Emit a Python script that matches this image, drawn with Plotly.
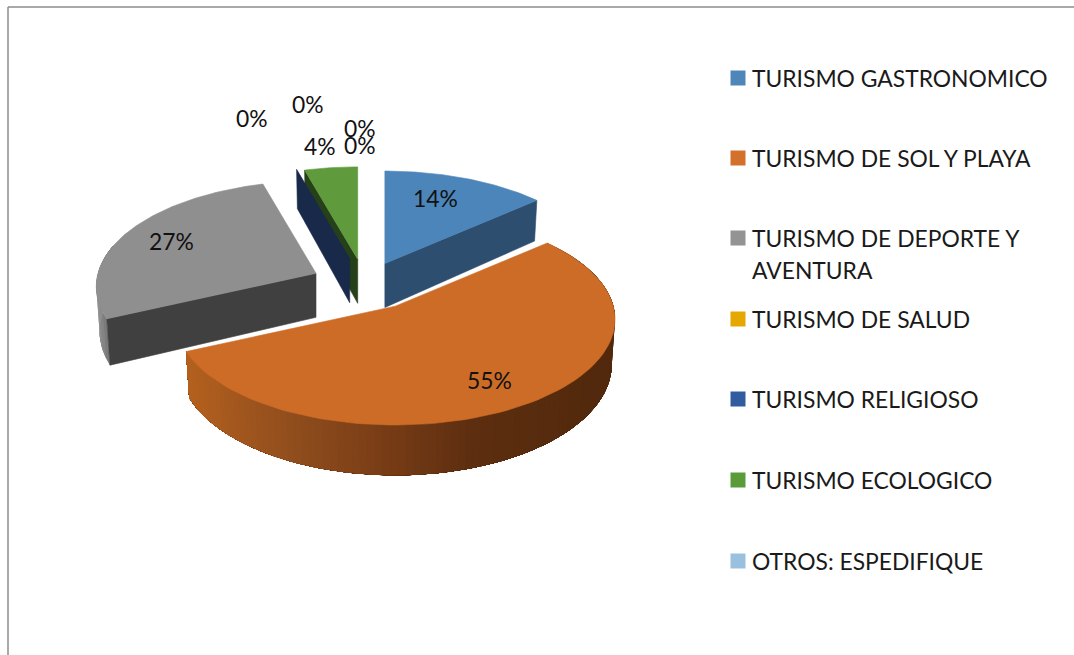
import numpy as np
import plotly.graph_objects as go

# ---------- data ----------
categories = ["TURISMO GASTRONOMICO", "TURISMO DE SOL Y PLAYA", "TURISMO DE DEPORTE Y<br>AVENTURA",
              "TURISMO DE SALUD", "TURISMO RELIGIOSO", "TURISMO ECOLOGICO", "OTROS: ESPEDIFIQUE", ""]
values = [13.6, 54.6, 27.4, 0, 0, 4.4, 0, 0]
explode = [48, 56, 54, 0, 56, 53, 0, 0]
top_colors = ["#4b85b9", "#cd6c27", "#8f8f8f", "#e5a800", "#3a5fa8", "#5f9a3c", "#9ac0e0", "#ffffff"]
cut_colors = ["#2d4e6e", "#7a3d16", "#404040", "#8a6500", "#18294a", "#26401a", "#5c7386", "#ffffff"]
legend_colors = ["#4f86ba", "#d2702c", "#939393", "#e5a800", "#315ca0", "#5c9b3a", "#9ac0e0"]
label_xy = [(435, 198), (489, 380), (171, 241), (252, 118), (308, 104), (320, 146), (360, 145), (360, 128)]
legend_y = [78, 158, 238, 319, 399, 480, 561]

# ---------- projection (style) ----------
CX, CY, RX, RY, B, DEPTH, FLAT = 365, 284, 218, 104, 0.125, 44, 0.47
FONT = "Lato"
FS = 22.85

total = sum(values)
edges = np.concatenate([[0], np.cumsum(values)]) / total * 2 * np.pi

fig = go.Figure()


def poly(xs, ys, color, lw=0.6):
    fig.add_trace(go.Scatter(x=list(xs), y=list(ys), mode="lines", fill="toself", fillcolor=color,
                             line=dict(color=color, width=lw), hoverinfo="skip", showlegend=False))


def apex(i):
    mid = (edges[i] + edges[i + 1]) / 2
    return CX + explode[i] * np.sin(mid), CY - explode[i] * FLAT * np.cos(mid)


def rim(i, th):
    ax, ay = apex(i)
    s = 1 / (1 + B * np.cos(th))
    return ax + RX * np.sin(th) * s, ay - RY * np.cos(th) * s, s


def top(i):
    ax, ay = apex(i)
    th = np.linspace(edges[i], edges[i + 1], 90)
    x, y, _ = rim(i, th)
    poly(np.r_[ax, x, ax], np.r_[ay, y, ay], top_colors[i])


def cut(i, th):
    ax, ay = apex(i)
    x, y, s = rim(i, th)
    d = DEPTH * s
    poly([ax, x, x + (ax - x) * 0.015, ax, ax], [ay, y, y + d, ay + DEPTH, ay], cut_colors[i])


def wall(i, a, b, stops, n):
    """Painter's strips: each strip runs on to the far end of the wall, so no seams show."""
    ax, _ = apex(i)
    ths = np.linspace(a, b, n + 1)
    xp = [p[0] for p in stops]
    for t0, t1 in zip(ths[:-1], ths[1:]):
        x0, _, _ = rim(i, t0)
        x1, _, _ = rim(i, t1)
        c = [int(np.interp((x0 + x1) / 2, xp, [p[1][k] for p in stops])) for k in range(3)]
        col = "rgb(%d,%d,%d)" % tuple(c)
        arc = np.linspace(t0, b, max(int((b - t0) * 40), 2))
        x, y, s = rim(i, arc)
        xb = x + (ax - x) * 0.015
        yb = y + DEPTH * s
        poly(np.r_[x, xb[::-1], x[0]], np.r_[y, yb[::-1], y[0]], col, lw=0)


# gray
wall(2, edges[2], edges[2] + 0.7, [(95, (150, 150, 150)), (112, (104, 104, 104))], 12)
cut(2, edges[2])
top(2)
# green cut, navy zero slice, green top
cut(5, edges[5])
cut(4, edges[4])
top(5)
# blue
cut(0, edges[1])
top(0)
# orange
wall(1, edges[1], edges[2], [(186, (181, 97, 31)), (280, (148, 80, 30)), (373, (124, 63, 23)),
                             (470, (94, 47, 16)), (603, (82, 41, 13))], 110)
top(1)

# legend swatches
fig.add_trace(go.Scatter(x=[738] * 7, y=legend_y, mode="markers",
                         marker=dict(symbol="square", size=15, color=legend_colors, line=dict(width=0)),
                         hoverinfo="skip", showlegend=False))

annotations = []
for name, y in zip(categories[:7], legend_y):
    lines = name.split("<br>")
    for j, t in enumerate(lines):
        annotations.append(dict(x=750, y=y + 32 * j, text=t, showarrow=False, xanchor="left", yanchor="middle",
                                xref="x", yref="y", font=dict(family=FONT, size=FS, color="#1a1a1a")))
for v, (x, y) in zip(values, label_xy):
    annotations.append(dict(x=x, y=y, text="%.0f%%" % v, showarrow=False, xanchor="center", yanchor="middle",
                            xref="x", yref="y", font=dict(family=FONT, size=FS, color="#111111")))

fig.update_layout(
    width=1074, height=655, autosize=False, margin=dict(l=0, r=0, t=0, b=0),
    paper_bgcolor="white", plot_bgcolor="white", showlegend=False,
    xaxis=dict(range=[0, 1074], visible=False, fixedrange=True),
    yaxis=dict(range=[655, 0], visible=False, fixedrange=True),
    annotations=annotations,
    shapes=[dict(type="line", x0=8, x1=8, y0=7, y1=655, xref="x", yref="y", line=dict(color="#8c8c8c", width=1.5)),
            dict(type="line", x0=8, x1=1074, y0=7, y1=7, xref="x", yref="y", line=dict(color="#8c8c8c", width=1.5))],
)
fig.write_html("out.html", config=dict(displayModeBar=False),
               post_script="document.body.style.margin='0';")
